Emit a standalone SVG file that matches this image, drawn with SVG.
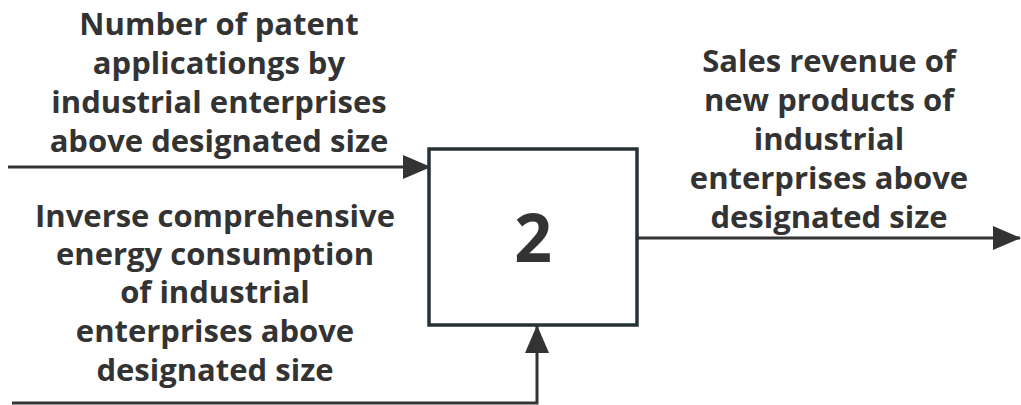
<svg xmlns="http://www.w3.org/2000/svg" width="1021" height="405" viewBox="0 0 1021 405">
  <style>
    .lbl { font-family: "Open Sans", "Noto Sans", "Liberation Sans", sans-serif; font-weight: bold; font-size: 31px; fill: #333333; text-anchor: middle; }
    .num { font-family: "Open Sans", "Noto Sans", "Liberation Sans", sans-serif; font-weight: bold; font-size: 66px; fill: #333333; text-anchor: middle; }
    .wire { fill: none; stroke: #333333; stroke-width: 3; }
  </style>
  <defs>
    <marker id="arrow" markerUnits="userSpaceOnUse" markerWidth="28" markerHeight="24" refX="27" refY="12" orient="auto">
      <path d="M0,0 L28,12 L0,24 Z" fill="#333333"/>
    </marker>
  </defs>

  <g id="connectors">
    <path class="wire" d="M8,167 L430,167" marker-end="url(#arrow)"/>
    <path class="wire" d="M12,403 L537,403 L537,326" marker-end="url(#arrow)"/>
    <path class="wire" d="M638,238 L1020,238" marker-end="url(#arrow)"/>
  </g>

  <g id="process-2">
    <rect x="429" y="149" width="208" height="176" fill="#ffffff" stroke="#263035" stroke-width="3.5"/>
    <text class="num" x="533" y="262">2</text>
  </g>

  <g id="input-patents">
    <text class="lbl" x="219" y="35">Number of patent</text>
    <text class="lbl" x="219" y="74">applicationgs by</text>
    <text class="lbl" x="219" y="113">industrial enterprises</text>
    <text class="lbl" x="219" y="152">above designated size</text>
  </g>

  <g id="input-energy">
    <text class="lbl" x="215" y="227">Inverse comprehensive</text>
    <text class="lbl" x="215" y="265">energy consumption</text>
    <text class="lbl" x="215" y="303">of industrial</text>
    <text class="lbl" x="215" y="342">enterprises above</text>
    <text class="lbl" x="215" y="381">designated size</text>
  </g>

  <g id="output-sales">
    <text class="lbl" x="829" y="72">Sales revenue of</text>
    <text class="lbl" x="829" y="111">new products of</text>
    <text class="lbl" x="829" y="150">industrial</text>
    <text class="lbl" x="829" y="189">enterprises above</text>
    <text class="lbl" x="829" y="228">designated size</text>
  </g>
</svg>
